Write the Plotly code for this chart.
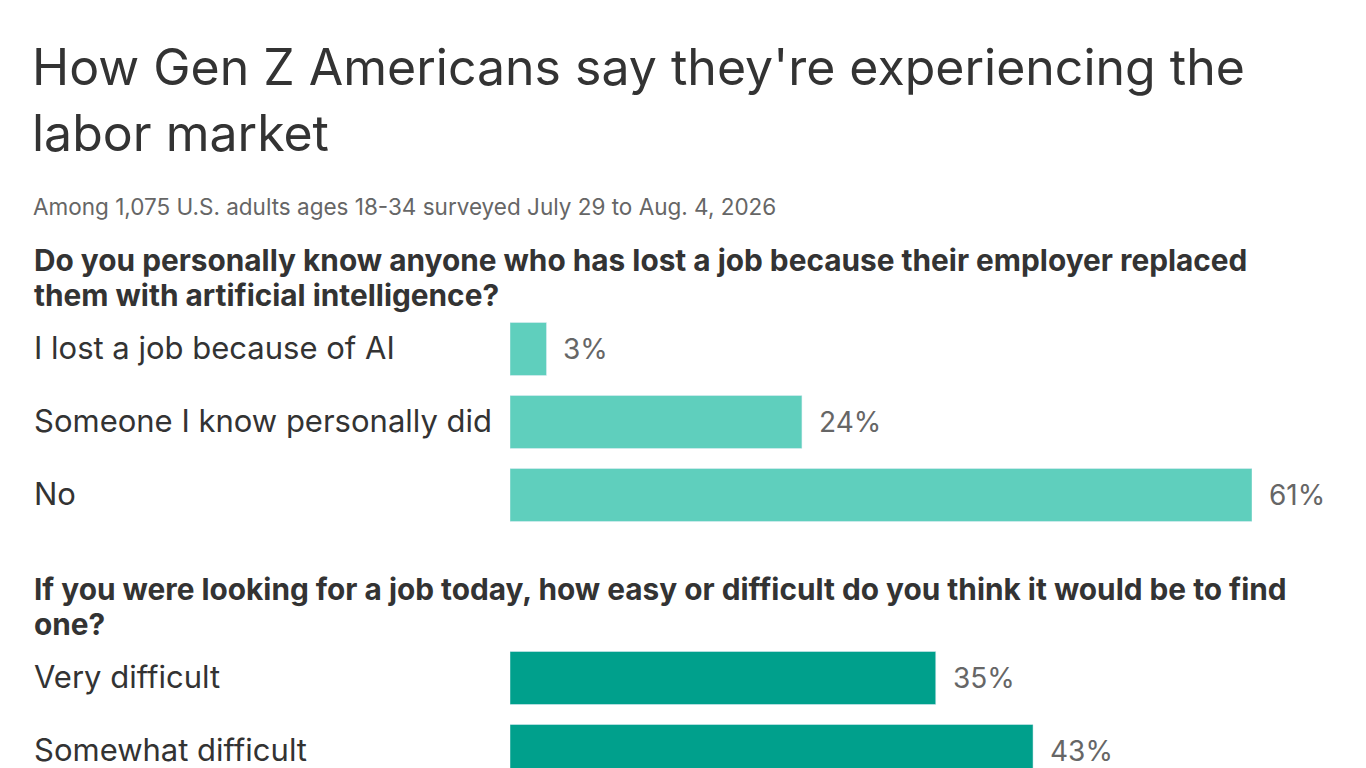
import plotly.graph_objects as go

W, H = 1366, 768
OFF = 8  # the page body adds an 8px margin

title_lines = ["How Gen Z Americans say they're experiencing the", "labor market"]
subtitle = "Among 1,075 U.S. adults ages 18-34 surveyed July 29 to Aug. 4, 2026"

q1_lines = ["Do you personally know anyone who has lost a job because their employer replaced",
            "them with artificial intelligence?"]
q1_labels = ["I lost a job because of AI", "Someone I know personally did", "No"]
q1_values = [3, 24, 61]

q2_lines = ["If you were looking for a job today, how easy or difficult do you think it would be to find",
            "one?"]
q2_labels = ["Very difficult", "Somewhat difficult"]
q2_values = [35, 43]

FONT = "Inter"
DARK = "#333333"
GREY = "#666666"


def px_(pix):
    return (pix - OFF) / W


def py(pix):
    # pixel from top -> paper y
    return 1 - (pix - OFF) / H


fig = go.Figure()
fig.add_trace(go.Bar(x=q1_values, y=q1_labels, orientation="h", marker_color="#5fcfbd",
                     width=53 / 73, xaxis="x", yaxis="y", hoverinfo="skip"))
fig.add_trace(go.Bar(x=q2_values, y=q2_labels, orientation="h", marker_color="#00a08c",
                     width=53 / 73, xaxis="x2", yaxis="y2", hoverinfo="skip"))

ann = []
for i, t in enumerate(title_lines):
    ann.append(dict(text=t, x=px_(30), y=py(67 + i * 66), xref="paper", yref="paper",
                    xanchor="left", yanchor="middle", showarrow=False,
                    font=dict(family=FONT, size=50, color=DARK)))
ann.append(dict(text=subtitle, x=px_(31), y=py(206), xref="paper", yref="paper",
                xanchor="left", yanchor="middle", showarrow=False,
                font=dict(family=FONT, size=22.5, color=GREY)))
for lines, top in [(q1_lines, 260), (q2_lines, 589)]:
    for i, t in enumerate(lines):
        ann.append(dict(text="<b>" + t + "</b>", x=px_(32), y=py(top + i * 35), xref="paper", yref="paper",
                        xanchor="left", yanchor="middle", showarrow=False,
                        font=dict(family=FONT, size=29.8, color=DARK)))
for labels, values, xr, yr in [(q1_labels, q1_values, "x", "y"), (q2_labels, q2_values, "x2", "y2")]:
    for lab, v in zip(labels, values):
        ann.append(dict(text=lab, x=px_(32), y=lab, xref="paper", yref=yr, yshift=2,
                        xanchor="left", yanchor="middle", showarrow=False,
                        font=dict(family=FONT, size=31, color=DARK)))
        ann.append(dict(text=f"{v}%", x=v, y=lab, xref=xr, yref=yr, xshift=15,
                        xanchor="left", yanchor="middle", showarrow=False,
                        font=dict(family=FONT, size=28, color=GREY)))

xdom = [px_(510), px_(1252)]
fig.update_layout(
    width=W, height=H, margin=dict(l=0, r=0, t=0, b=0),
    paper_bgcolor="white", plot_bgcolor="white", showlegend=False,
    annotations=ann,
    xaxis=dict(domain=xdom, range=[0, 61], visible=False, anchor="y"),
    yaxis=dict(domain=[py(531.5), py(312.5)], range=[2.5, -0.5], visible=False, anchor="x"),
    xaxis2=dict(domain=xdom, range=[0, 61], visible=False, anchor="y2"),
    yaxis2=dict(domain=[0, py(641.5)], range=[-0.5 + (H + OFF - 641.5) / 73, -0.5],
                visible=False, anchor="x2"),
)

fig.write_html("out.html")
